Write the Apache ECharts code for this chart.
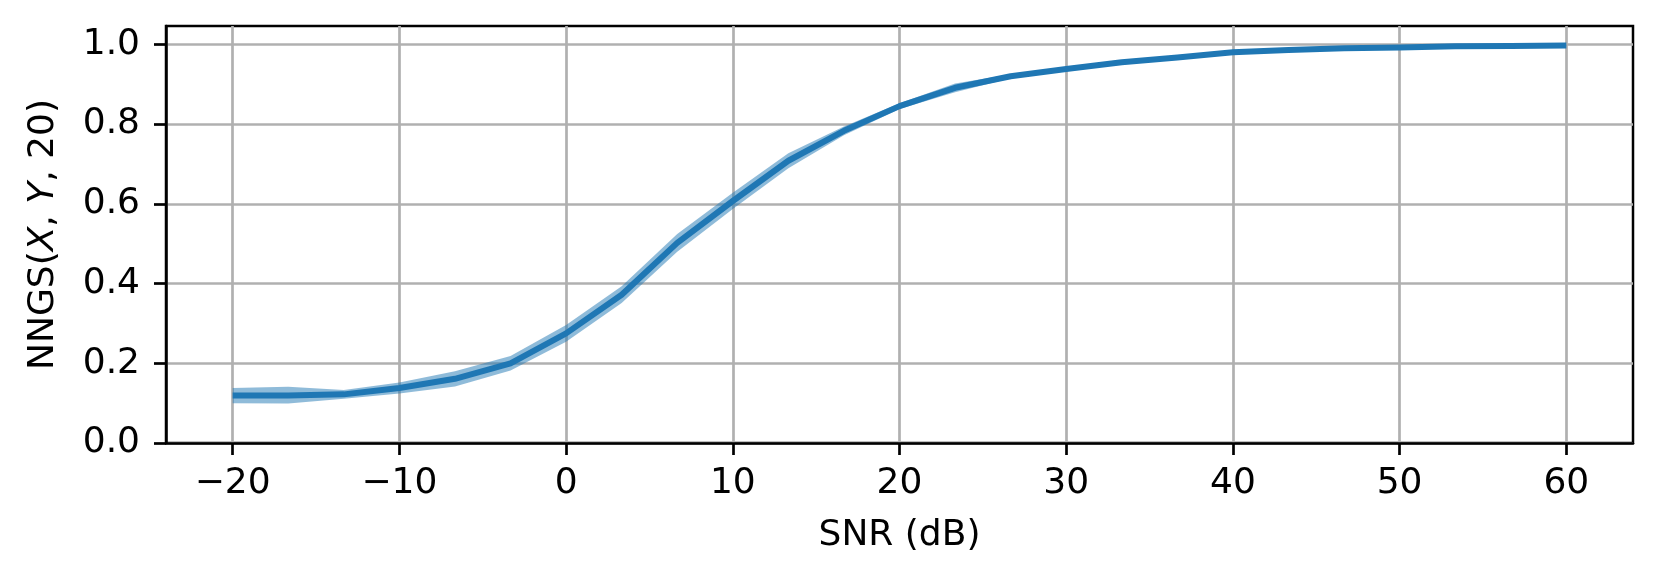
<!DOCTYPE html>
<html>
<head>
<meta charset="utf-8">
<script src="https://cdn.jsdelivr.net/npm/echarts@6/dist/echarts.min.js"></script>
<style>
html,body{margin:0;padding:0;background:#fff;}
#chart{width:1660px;height:585px;}
</style>
</head>
<body>
<div id="chart"></div>
<script>
// SNR values (dB): 25 points from -20 to 60
const snr = [-20, -16.667, -13.333, -10, -6.667, -3.333, 0, 3.333, 6.667, 10, 13.333, 16.667, 20,
             23.333, 26.667, 30, 33.333, 36.667, 40, 43.333, 46.667, 50, 53.333, 56.667, 60];
// mean NNGS
const meanVals = [0.119, 0.119, 0.122, 0.138, 0.161, 0.200, 0.275, 0.372, 0.502, 0.607, 0.708, 0.783, 0.845,
                  0.891, 0.920, 0.938, 0.955, 0.967, 0.980, 0.986, 0.990, 0.992, 0.995, 0.996, 0.997];
// band lower / upper
const lowerVals = [0.100, 0.099, 0.111, 0.124, 0.142, 0.182, 0.254, 0.351, 0.480, 0.587, 0.689, 0.772, 0.838,
                   0.880, 0.915, 0.934, 0.950, 0.964, 0.978, 0.985, 0.989, 0.991, 0.994, 0.995, 0.996];
const upperVals = [0.138, 0.141, 0.133, 0.152, 0.180, 0.218, 0.296, 0.393, 0.524, 0.628, 0.727, 0.794, 0.852,
                   0.902, 0.925, 0.942, 0.960, 0.970, 0.982, 0.987, 0.991, 0.993, 0.996, 0.997, 0.998];
const xTicks = [-20, -10, 0, 10, 20, 30, 40, 50, 60];
const yTicks = [0, 0.2, 0.4, 0.6, 0.8, 1.0];

const FONT = 'DejaVu Sans';
const FS = 36;
const chart = echarts.init(document.getElementById('chart'), null, {renderer: 'canvas'});
const C0 = '#1f77b4';

function renderBand(params, api) {
  if (params.dataIndex !== 0) return null;
  const pts = [];
  for (let i = 0; i < snr.length; i++) pts.push(api.coord([snr[i], upperVals[i]]));
  for (let i = snr.length - 1; i >= 0; i--) pts.push(api.coord([snr[i], lowerVals[i]]));
  return {
    type: 'polygon',
    shape: {points: pts},
    style: {fill: 'rgba(31,119,180,0.5)', stroke: 'none'}
  };
}

chart.setOption({
  animation: false,
  backgroundColor: '#ffffff',
  grid: {left: 166, right: 27, top: 26, bottom: 142, show: true, borderColor: '#000', borderWidth: 2.5, backgroundColor: 'transparent'},
  xAxis: {
    type: 'value', min: -24, max: 64,
    name: 'SNR (dB)', nameLocation: 'middle', nameGap: 75,
    nameTextStyle: {fontFamily: FONT, fontSize: FS, color: '#000'},
    axisLine: {show: true, onZero: false, lineStyle: {color: '#000', width: 2.5}},
    axisTick: {show: true, length: 12, customValues: xTicks, lineStyle: {color: '#000', width: 2.7}},
    axisLabel: {customValues: xTicks, margin: 23, fontFamily: FONT, fontSize: FS, color: '#000',
      formatter: v => (v < 0 ? '\u2212' + Math.abs(v) : String(v))},
    splitLine: {show: true, lineStyle: {color: '#b0b0b0', width: 2.7}}
  },
  yAxis: {
    type: 'value', min: 0, max: 1.046,
    name: 'NNGS({i|X}, {i|Y}, 20)', nameLocation: 'middle', nameGap: 104, nameRotate: 90,
    nameTextStyle: {fontFamily: FONT, fontSize: FS, color: '#000',
      rich: {i: {fontFamily: FONT, fontSize: FS, fontStyle: 'italic', color: '#000'}}},
    axisLine: {show: true, onZero: false, lineStyle: {color: '#000', width: 2.5}},
    axisTick: {show: true, length: 12, customValues: yTicks, lineStyle: {color: '#000', width: 2.7}},
    axisLabel: {customValues: yTicks, margin: 26, fontFamily: FONT, fontSize: FS, color: '#000',
      formatter: v => Number(v).toFixed(1)},
    splitLine: {show: true, lineStyle: {color: '#b0b0b0', width: 2.7}}
  },
  series: [
    {
      type: 'custom', silent: true, clip: true,
      renderItem: renderBand,
      data: snr.map((x, i) => [x, lowerVals[i], upperVals[i]]),
      encode: {x: 0, y: [1, 2]}, z: 2
    },
    {
      type: 'line', symbol: 'none', silent: true,
      data: snr.map((x, i) => [x, meanVals[i]]),
      lineStyle: {color: C0, width: 6, cap: 'butt', join: 'round'}, z: 3
    }
  ]
});
</script>
</body>
</html>
